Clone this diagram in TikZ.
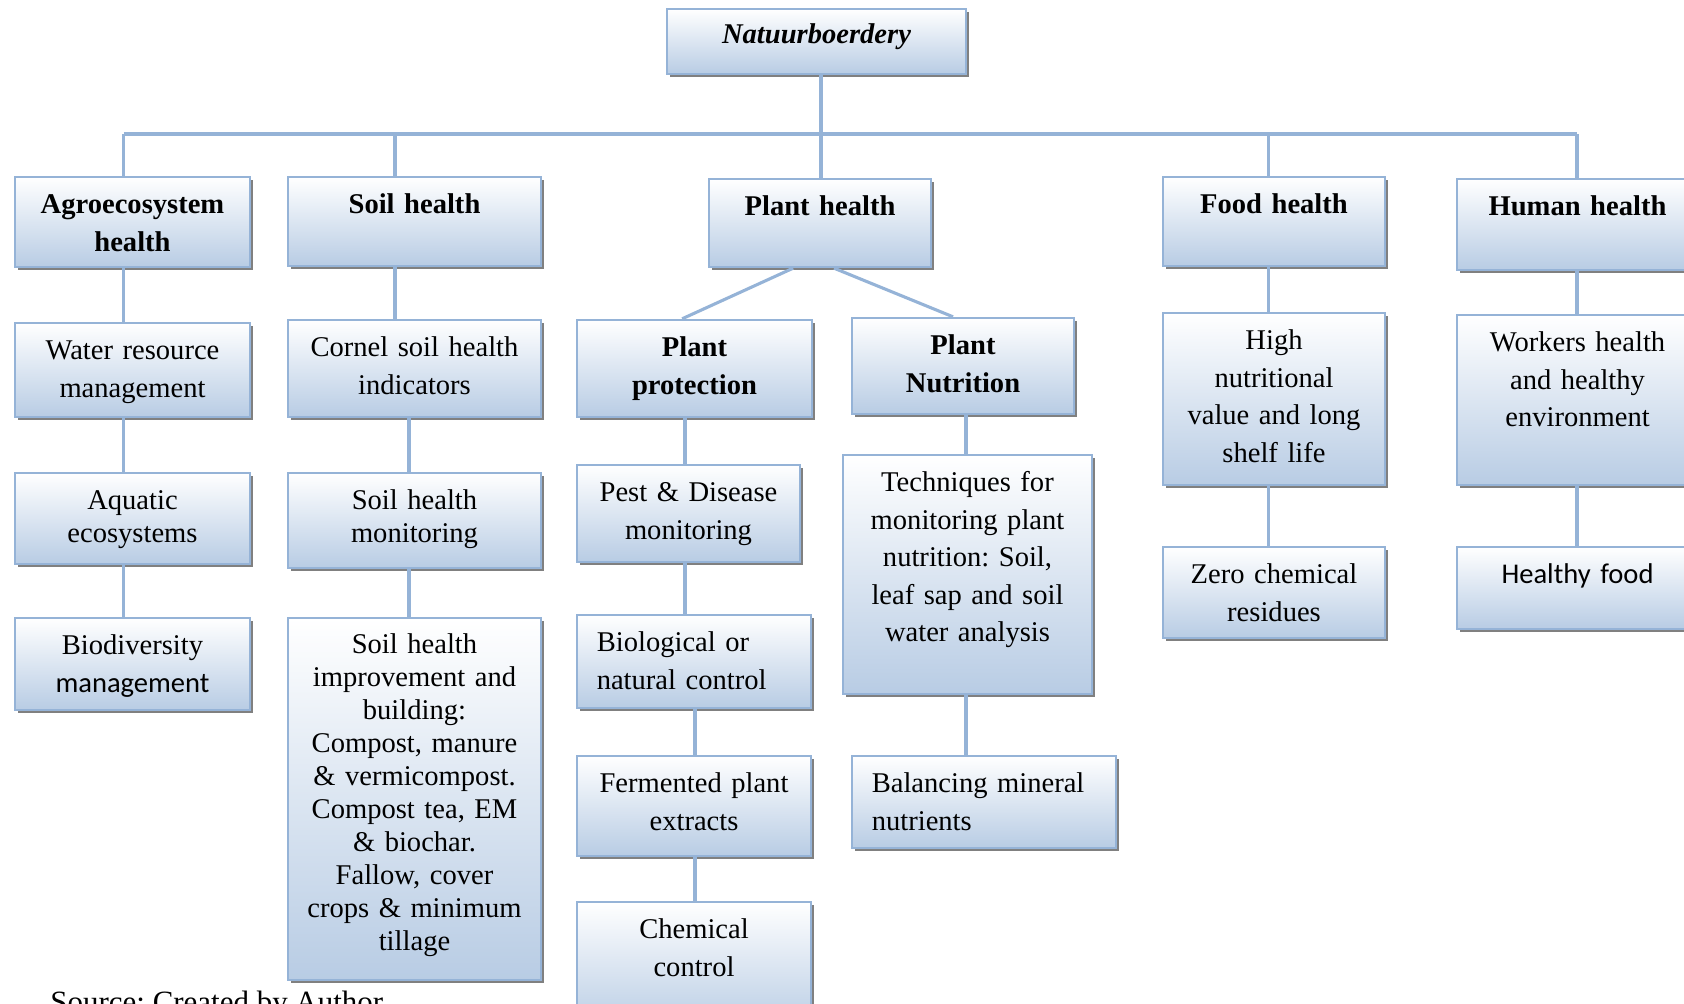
\documentclass[tikz,border=0pt]{standalone}
\usepackage{fontspec}
\setmainfont{Liberation Serif}
\newfontfamily\calibri{Carlito}
\usetikzlibrary{fit,shadows}
\frenchspacing

\definecolor{boxline}{RGB}{149,179,215}
\definecolor{boxfill}{RGB}{184,204,228}
\tikzset{
  box/.style={draw=boxline, line width=1pt, top color=white, bottom color=boxfill, inner sep=0pt,
    drop shadow={shadow xshift=1.3pt, shadow yshift=-1.3pt, fill=black!50, opacity=1}},
  link/.style={draw=boxline, line width=1.3pt},
  txt/.style={anchor=base, align=center, text width=110pt, inner sep=0pt, font=\fontsize{12}{15.8}\selectfont},
  tight/.style={font=\fontsize{12}{13.9}\selectfont},
  hd/.style={txt, font=\fontsize{12}{15.8}\selectfont\bfseries},
  lft/.style={txt, anchor=base west, align=left},
}

\begin{document}
\begin{tikzpicture}[x=0.42pt, y=-0.42pt]
    \useasboundingbox (0,0) rectangle (1684,1004);

    % oberste kas
    \node[box, fit={(667,9) (966,74)}] (root) {};
    \node[txt, font=\fontsize{12}{15.8}\selectfont\bfseries\itshape] (root-t) at ([yshift=-14.8pt]root.north) {Natuurboerdery};

    % vyf hoofkasse
    \node[box, fit={(15,177) (250,267)}] (agro) {};
    \node[hd] (agro-t) at ([yshift=-15.8pt]agro.north) {Agroecosystem\\health};
    \node[box, fit={(288,177) (541,266)}] (soil) {};
    \node[hd] (soil-t) at ([yshift=-15.8pt]soil.north) {Soil health};
    \node[box, fit={(709,179) (931,267)}] (plant) {};
    \node[hd] (plant-t) at ([yshift=-15.8pt]plant.north) {Plant health};
    \node[box, fit={(1163,177) (1385,266)}] (food) {};
    \node[hd] (food-t) at ([yshift=-15.8pt]food.north) {Food health};
    \node[box, fit={(1457,179) (1698,270)}] (human) {};
    \node[hd] (human-t) at ([yshift=-15.8pt]human.north) {Human health};

    % agro-ekosisteem kolom
    \node[box, fit={(15,323) (250,417)}] (water) {};
    \node[txt] (water-t) at ([yshift=-15.8pt]water.north) {Water resource\\management};
    \node[box, fit={(15,473) (250,564)}] (aquatic) {};
    \node[txt, tight] (aquatic-t) at ([yshift=-15.8pt]aquatic.north) {Aquatic\\ecosystems};
    \node[box, fit={(15,618) (250,710)}] (biodiv) {};
    \node[txt] (biodiv-t) at ([yshift=-15.8pt]biodiv.north) {Biodiversity\\{\calibri management}};

    % grond kolom
    \node[box, fit={(288,320) (541,417)}] (cornel) {};
    \node[txt] (cornel-t) at ([yshift=-15.8pt]cornel.north) {Cornel soil health\\indicators};
    \node[box, fit={(288,473) (541,568)}] (monitor) {};
    \node[txt, tight] (monitor-t) at ([yshift=-15.8pt]monitor.north) {Soil health\\monitoring};
    \node[box, fit={(288,618) (541,980)}] (improve) {};
    \node[txt, tight] (improve-t) at ([yshift=-15.2pt]improve.north) {Soil health\\improvement and\\building:\\Compost, manure\\\& vermicompost.\\Compost tea, EM\\\& biochar.\\Fallow, cover\\crops \& minimum\\tillage};

    % plant kolomme
    \node[box, fit={(577,320) (812,417)}] (protect) {};
    \node[hd] (protect-t) at ([yshift=-15.8pt]protect.north) {Plant\\protection};
    \node[box, fit={(577,465) (800,562)}] (pest) {};
    \node[txt] (pest-t) at ([yshift=-15.8pt]pest.north) {Pest \& Disease\\monitoring};
    \node[box, fit={(577,615) (811,708)}] (bioctrl) {};
    \node[lft] (bioctrl-t) at ([xshift=8.6pt, yshift=-15.8pt]bioctrl.north west) {Biological or\\natural control};
    \node[box, fit={(577,756) (811,856)}] (ferment) {};
    \node[txt] (ferment-t) at ([yshift=-15.8pt]ferment.north) {Fermented plant\\extracts};
    \node[box, fit={(577,902) (811,1030)}] (chem) {};
    \node[txt] (chem-t) at ([yshift=-15.8pt]chem.north) {Chemical\\control};

    \node[box, fit={(852,318) (1074,414)}] (nutri) {};
    \node[hd] (nutri-t) at ([yshift=-15.8pt]nutri.north) {Plant\\Nutrition};
    \node[box, fit={(843,455) (1092,694)}] (techniq) {};
    \node[txt] (techniq-t) at ([yshift=-15.8pt]techniq.north) {Techniques for\\monitoring plant\\nutrition: Soil,\\leaf sap and soil\\water analysis};
    \node[box, fit={(852,756) (1116,848)}] (balance) {};
    \node[lft] (balance-t) at ([xshift=8.6pt, yshift=-15.8pt]balance.north west) {Balancing mineral\\nutrients};

    % voedsel kolom
    \node[box, fit={(1163,313) (1385,485)}] (nutval) {};
    \node[txt] (nutval-t) at ([yshift=-15.8pt]nutval.north) {High\\nutritional\\value and long\\shelf life};
    \node[box, fit={(1163,547) (1385,638)}] (residue) {};
    \node[txt] (residue-t) at ([yshift=-15.8pt]residue.north) {Zero chemical\\residues};

    % mens kolom
    \node[box, fit={(1457,315) (1698,485)}] (workers) {};
    \node[txt] (workers-t) at ([yshift=-15.8pt]workers.north) {Workers health\\and healthy\\environment};
    \node[box, fit={(1457,547) (1698,629)}] (healthy) {};
    \node[txt] (healthy-t) at ([yshift=-15.8pt]healthy.north) {\calibri Healthy food};

    % bron
    \node[anchor=base west, inner sep=0pt, font=\fontsize{13}{15}\selectfont] (source) at (50,1012.5) {Source: Created by Author};

    % lyne
    \coordinate (bus) at (0,134);
    \coordinate (col-r) at (821,0);
    \coordinate (col-a) at (123.5,0);
    \coordinate (col-s) at (395,0);
    \coordinate (col-s2) at (409,0);
    \coordinate (col-p) at (685,0);
    \coordinate (col-p2) at (695,0);
    \coordinate (col-n) at (966,0);
    \coordinate (col-f) at (1268.5,0);
    \coordinate (col-h) at (1577,0);

    \draw[link] (root.south -| col-r) -- (bus -| col-r);
    \draw[link] (bus -| col-a) -- (bus -| col-h);
    \foreach \n/\c in {agro/a, soil/s, plant/r, food/f, human/h}
        \draw[link] (bus -| col-\c) -- (\n.north -| col-\c);
    \foreach \u/\v/\c in {agro/water/a, water/aquatic/a, aquatic/biodiv/a,
                          soil/cornel/s, cornel/monitor/s2, monitor/improve/s2,
                          protect/pest/p, pest/bioctrl/p, bioctrl/ferment/p2, ferment/chem/p2,
                          nutri/techniq/n, techniq/balance/n,
                          food/nutval/f, nutval/residue/f,
                          human/workers/h, workers/healthy/h}
        \draw[link] (\u.south -| col-\c) -- (\v.north -| col-\c);
    \draw[link] ([xshift=-11.3pt]plant.south) -- ([xshift=-5.2pt]protect.north);
    \draw[link] ([xshift=5.9pt]plant.south) -- ([xshift=-4.2pt]nutri.north);
\end{tikzpicture}
\end{document}
